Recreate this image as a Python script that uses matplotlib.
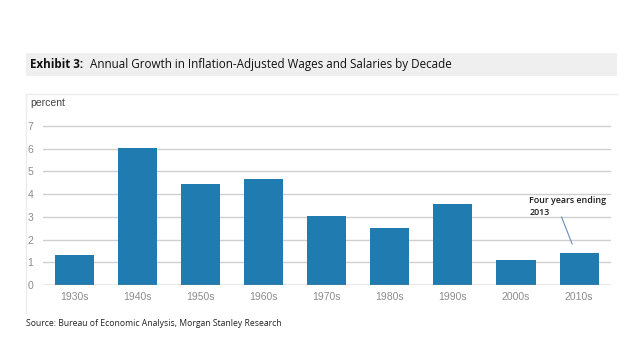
import matplotlib.pyplot as plt
from matplotlib.patches import Rectangle
from matplotlib.lines import Line2D

decades = ["1930s", "1940s", "1950s", "1960s", "1970s", "1980s", "1990s", "2000s", "2010s"]
growth = [1.31, 6.03, 4.43, 4.66, 3.02, 2.53, 3.58, 1.09, 1.43]
yticks = [0, 1, 2, 3, 4, 5, 6, 7]

W, H = 640, 360
fig = plt.figure(figsize=(W / 100, H / 100), dpi=100)

def fx(px):
    return px / W

def fy(py):
    return 1 - py / H

# title band
fig.add_artist(Rectangle((fx(26), fy(76)), fx(591), 23.3 / H, transform=fig.transFigure,
                         facecolor="#efefef", edgecolor="none", zorder=0))
t1 = fig.text(fx(30.5), fy(64.5), "Exhibit 3:", fontsize=8.4, va="center", ha="left",
              family="Open Sans", weight="bold", color="#111111")
fig.add_artist(plt.Annotation("  Annual Growth in Inflation-Adjusted Wages and Salaries by Decade",
                              xy=(1, 0.5), xycoords=t1, va="center", ha="left",
                              fontsize=8.4, family="Open Sans", color="#111111"))

# panel border (top and left only)
fig.add_artist(Line2D([fx(26), fx(617)], [fy(94), fy(94)], transform=fig.transFigure,
                      color="#ebebeb", lw=1))
fig.add_artist(Line2D([fx(26), fx(26)], [fy(94), fy(313)], transform=fig.transFigure,
                      color="#ebebeb", lw=1))

unit = (285 - 126) / 7
top = 7.15
ax = fig.add_axes([fx(42.7), fy(285), fx(568), top * unit / H])
ax.bar(range(len(decades)), growth, width=0.62, color="#1f7bb0", zorder=3)
ax.set_xlim(-0.5, len(decades) - 0.5)
ax.set_ylim(0, top)
for v in yticks[1:]:
    ax.axhline(v, color="#cfcfcf", lw=1, zorder=1)
ax.axhline(0, color="#8a8a8a", lw=1, zorder=4)
for s in ax.spines.values():
    s.set_visible(False)
ax.set_yticks(yticks)
ax.set_yticklabels([str(v) for v in yticks], ha="left")
ax.set_xticks(range(len(decades)))
ax.set_xticklabels(decades)
ax.tick_params(axis="y", length=0, pad=11, labelsize=7.5, labelcolor="#8c8c8c")
ax.tick_params(axis="x", length=0, pad=5, labelsize=7.5, labelcolor="#8c8c8c")
for lbl in ax.get_xticklabels() + ax.get_yticklabels():
    lbl.set_family("Liberation Sans")
ax.patch.set_alpha(0)

fig.text(fx(30), fy(102.5), "percent", fontsize=7.5, color="#444444", va="center",
         family="Liberation Sans")

# annotation
ax.text(7.21, 3.93, "Four years ending\n2013", fontsize=6.4, color="#1a1a1a", va="top",
        ha="left", family="Open Sans", weight="semibold", linespacing=1.45, zorder=5)
ax.annotate("", xy=(7.89, 1.8), xytext=(7.72, 3.0),
            arrowprops=dict(arrowstyle="-", color="#6a8fb5", lw=0.8, shrinkA=0, shrinkB=0))

fig.text(fx(26), fy(324), "Source: Bureau of Economic Analysis, Morgan Stanley Research",
         fontsize=6.2, color="#222222", va="center", ha="left", family="Open Sans")

fig.savefig("out.png", dpi=100)
